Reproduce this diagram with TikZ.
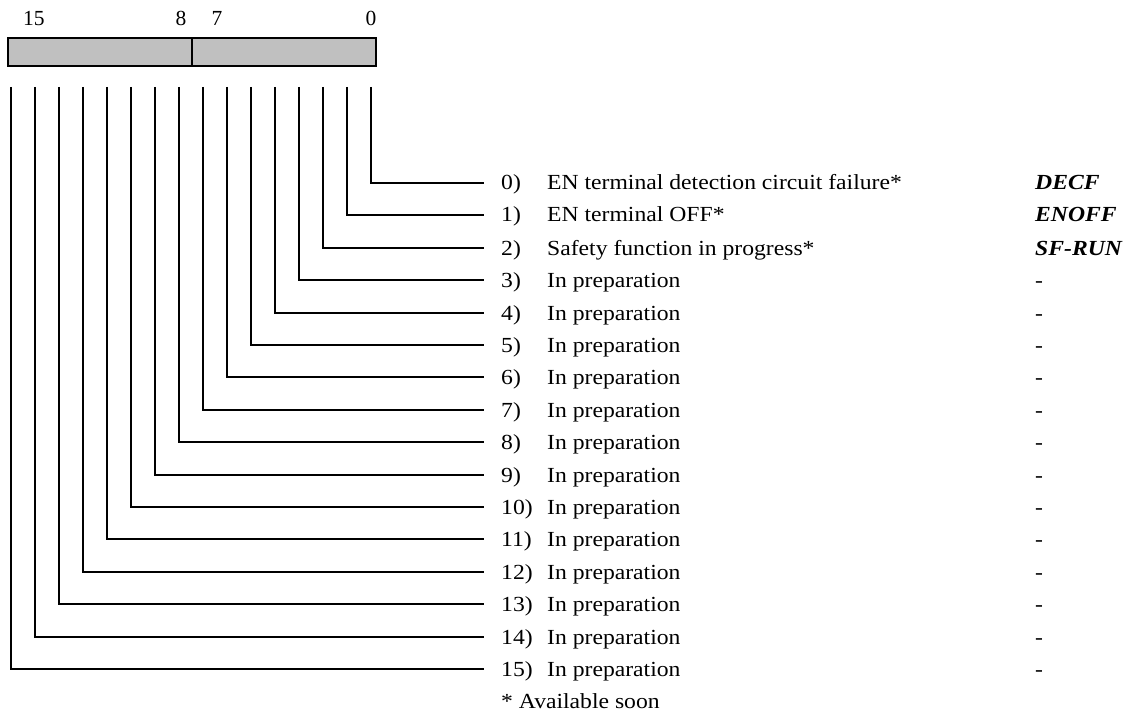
\documentclass[tikz,border=0pt]{standalone}
\usepackage{fontspec}
\setmainfont{Liberation Serif}
\newcommand{\wider}[1]{\scalebox{1.1}[1]{#1}}
\begin{document}
\begin{tikzpicture}[x=1pt,y=-1pt,
  txt/.style={inner sep=0pt,anchor=base west,font=\fontsize{21.5}{24}\selectfont},
  code/.style={txt,font=\fontsize{21.5}{24}\selectfont\bfseries\itshape},
  wire/.style={line width=2pt},
  bitno/.style={inner sep=0pt,anchor=base,font=\fontsize{21.5}{24}\selectfont}]
\useasboundingbox (0,0) rectangle (1134,719);

% register with bit numbering
\draw[wire,fill={rgb,255:red,192;green,192;blue,192}] (8,38) rectangle (376,66);
\draw[wire] (192,38) -- (192,66);
\node[bitno] (h15) at (34,26) {15};
\node[bitno] (h8) at (181,26) {8};
\node[bitno] (h7) at (217,26) {7};
\node[bitno] (h0) at (371,26) {0};

% bit descriptions
\foreach \i/\desc/\cd in {
  0/EN terminal detection circuit failure*/DECF,
  1/EN terminal OFF*/ENOFF,
  2/Safety function in progress*/SF-RUN,
  3/In preparation/,4/In preparation/,5/In preparation/,
  6/In preparation/,7/In preparation/,8/In preparation/,
  9/In preparation/,10/In preparation/,11/In preparation/,
  12/In preparation/,13/In preparation/,14/In preparation/,
  15/In preparation/}{
  \pgfmathsetmacro{\yy}{round(183+32.4*\i)}
  \pgfmathsetmacro{\xx}{371-24*\i}
  \coordinate (b\i) at (\xx,87);
  \coordinate (e\i) at (484,\yy);
  \node[txt] (n\i) at (501,\yy+7) {\wider{\i)}};
  \node[txt] (d\i) at (547,\yy+7) {\wider{\desc}};
  \ifx\cd\empty
    \node[txt] (c\i) at (1035,\yy+7) {\wider{-}};
  \else
    \node[code] (c\i) at (1035,\yy+7) {\wider{\cd}};
  \fi
  \draw[wire] (b\i) |- (e\i);
}
\node[txt] (note) at (501,708) {\wider{* Available soon}};
\end{tikzpicture}
\end{document}
